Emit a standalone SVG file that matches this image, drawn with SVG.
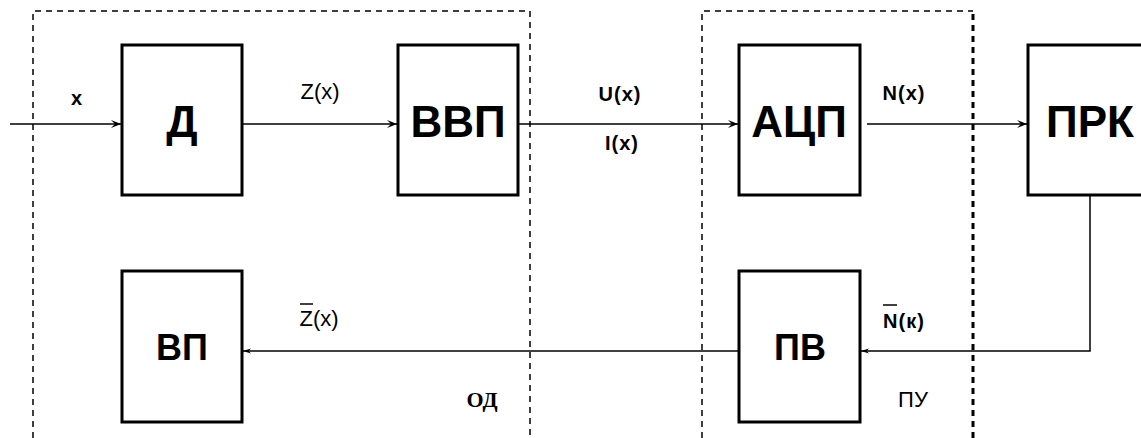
<svg xmlns="http://www.w3.org/2000/svg" width="1141" height="438" viewBox="0 0 1141 438">
<style>
.box{fill:#fff;stroke:#000;stroke-width:3}
.big{font-family:"Liberation Sans",Arial,sans-serif;font-weight:bold;font-size:44px;text-anchor:middle;fill:#000}
.mid{font-family:"Liberation Sans",Arial,sans-serif;font-weight:bold;font-size:36px;text-anchor:middle;fill:#000}
.lbl{font-family:"Liberation Sans",Arial,sans-serif;font-size:22px;text-anchor:middle;fill:#000}
.lblb{font-family:"Liberation Sans",Arial,sans-serif;font-weight:bold;font-size:20px;letter-spacing:1px;text-anchor:middle;fill:#000}
.ser{font-family:"Liberation Serif","Times New Roman",serif;font-weight:bold;font-size:22px;text-anchor:middle;fill:#000}
.dash{fill:none;stroke:#000;stroke-width:1.5;stroke-dasharray:6 5}
.dashb{fill:none;stroke:#000;stroke-width:3;stroke-dasharray:6 5}
.wire{fill:none;stroke:#000;stroke-width:1.5}
.ov{stroke:#000;stroke-width:1.5}
</style>
<defs>
<marker id="arr" viewBox="0 0 10 10" refX="10" refY="5" markerWidth="10" markerHeight="10" markerUnits="userSpaceOnUse" orient="auto">
<path d="M0,1 L10,5 L0,9 L4,5 Z" fill="#000"/>
</marker>
<marker id="arrs" viewBox="0 0 10 10" refX="10" refY="5" markerWidth="8" markerHeight="8" markerUnits="userSpaceOnUse" orient="auto">
<path d="M0,2 L10,5 L0,8 L3,5 Z" fill="#000"/>
</marker>
</defs>
<rect width="1141" height="438" fill="#fff"/>
<g id="zones">
<path class="dash" d="M33,438 V11 H530 V438"/>
<path class="dash" d="M702,438 V11 H973"/>
<path class="dashb" d="M973,14 V438"/>
</g>
<g id="connectors">
<path class="wire" d="M10,124 H121" marker-end="url(#arr)"/>
<path class="wire" d="M243,124 H397" marker-end="url(#arr)"/>
<path class="wire" d="M519,124 H738" marker-end="url(#arr)"/>
<path class="wire" d="M867,124 H1027" marker-end="url(#arr)"/>
<path class="wire" d="M1090,196 V351 H861" marker-end="url(#arrs)"/>
<path class="wire" d="M739,351 H243" marker-end="url(#arrs)"/>
</g>
<g id="labels">
<text class="lblb" x="77" y="105" font-size="17">x</text>
<text class="lbl" x="320" y="99">Z(x)</text>
<text class="lblb" x="620" y="101">U(x)</text>
<text class="lblb" x="622" y="150">I(x)</text>
<text class="lblb" x="904" y="100">N(x)</text>
<text class="lbl" x="319" y="326">Z(x)</text>
<line class="ov" x1="300" y1="304" x2="313" y2="304"/>
<text class="lblb" x="904" y="328">N(к)</text>
<line class="ov" x1="883" y1="305" x2="897" y2="305"/>
<text class="ser" x="482" y="407">ОД</text>
<text class="lbl" x="913" y="407">ПУ</text>
</g>
<g id="node-D"><rect class="box" x="122" y="45" width="120" height="150"/><text class="big" x="182" y="137">Д</text></g>
<g id="node-VVP"><rect class="box" x="398" y="45" width="120" height="150"/><text class="big" x="458" y="137">ВВП</text></g>
<g id="node-ACP"><rect class="box" x="739" y="45" width="121" height="150"/><text class="big" x="799" y="137">АЦП</text></g>
<g id="node-PRK"><rect class="box" x="1028" y="45" width="125" height="150"/><text class="big" x="1090" y="137">ПРК</text></g>
<g id="node-VP"><rect class="box" x="122" y="271" width="120" height="151"/><text class="mid" x="182" y="360">ВП</text></g>
<g id="node-PV"><rect class="box" x="739" y="271" width="121" height="151"/><text class="mid" x="800" y="360">ПВ</text></g>
</svg>
